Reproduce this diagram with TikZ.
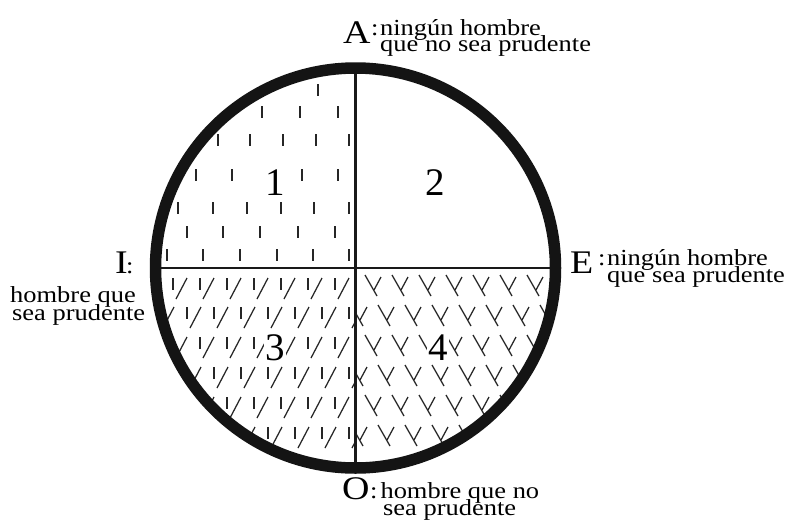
\documentclass[tikz,border=0pt]{standalone}
\usepackage{fontspec}
\setmainfont[FakeStretch=1.15]{Liberation Serif}
\newfontfamily\digfont{Liberation Serif}
\begin{document}
\begin{tikzpicture}[x=1pt,y=-1pt,
  patline/.style={line width=1.25pt,color=black!85},
  bigl/.style={font=\fontsize{33}{33}\selectfont,inner sep=0pt,anchor=base west},
  smallt/.style={font=\fontsize{23}{16}\selectfont,inner sep=0pt,anchor=base west},
  numb/.style={font=\digfont\fontsize{39}{39}\selectfont,fill=white,inner xsep=1pt,inner ysep=1pt,text height=26pt,text depth=0pt,anchor=base},
  rim/.style={line width=11.5pt,color=black!92},
  cross/.style={line width=2.6pt,color=black!90}]
\useasboundingbox (0,0) rectangle (790,523);
\fill[white] (0,0) rectangle (790,523);
\coordinate (c) at (355.5,268);
% quadrant 1: short vertical ticks
\begin{scope}
  \clip (c) circle [radius=195pt];
  \clip (150,268) rectangle (355.5,60);
  \foreach \y/\xs in {255/{167,203,240,277,313,349},232/{187,223,260,298,335},208/{178,213,247,281,314,349},175/{196,232,267,302,338},140/{218,250,283,316,349},112/{262,300,338},90/{318}}{
    \foreach \x in \xs {\draw[patline] (\x,\y-6) -- (\x,\y+6);}
  }
\end{scope}
% quadrant 3: tick + slash
\begin{scope}
  \clip (c) circle [radius=195pt];
  \clip (150,268) rectangle (355.5,480);
  \foreach \y in {278,337,397}{
    \foreach \x in {119,146,...,340}{
      \draw[patline] (\x,\y) -- (\x,\y+12);
      \draw[patline] (\x+3,\y+21) -- (\x+14,\y);
    }
  }
  \foreach \y in {307,367,427}{
    \foreach \x in {133,160,...,355}{
      \draw[patline] (\x,\y) -- (\x,\y+12);
      \draw[patline] (\x+3,\y+21) -- (\x+14,\y);
    }
  }
\end{scope}
% quadrant 4: backslash + short slash
\begin{scope}
  \clip (c) circle [radius=195pt];
  \clip (355.5,268) rectangle (565,480);
  \foreach \y in {275,335,395}{
    \foreach \x in {365,392,...,560}{
      \draw[patline] (\x,\y) -- (\x+12,\y+21);
      \draw[patline] (\x+9,\y+15) -- (\x+16,\y+2);
    }
  }
  \foreach \y in {305,365,425}{
    \foreach \x in {351,378,...,570}{
      \draw[patline] (\x,\y) -- (\x+12,\y+21);
      \draw[patline] (\x+9,\y+15) -- (\x+16,\y+2);
    }
  }
\end{scope}
% numbers
\node[numb] (n1) at (275,195) {1};
\node[numb] (n2) at (435,195) {2};
\node[numb] (n3) at (275,360) {3};
\node[numb] (n4) at (438,360) {4};
% cross and rim
\draw[cross] (155,268) -- (556,268);
\draw[cross] (355.5,68) -- (355.5,468);
\draw[rim] (c) circle [radius=200pt];
% labels
\node[bigl] (A) at (343,43) {A};
\node[smallt] (A1) at (371,35) {:\kern1.5pt ningún hombre};
\node[smallt] (A2) at (380,51) {que no sea prudente};
\node[bigl] (E) at (570,273) {E};
\node[smallt] (E1) at (598,265) {:\kern1.5pt ningún hombre};
\node[smallt] (E2) at (607,282) {que sea prudente};
\node[bigl] (I) at (115,273) {I};
\node[smallt] (Icol) at (126,273) {:};
\node[smallt] (I1) at (10,302) {hombre que};
\node[smallt] (I2) at (12,320) {sea prudente};
\node[bigl] (O) at (342,499) {O};
\node[smallt] (O1) at (370,498) {:\kern3pt hombre que no};
\node[smallt] (O2) at (383,515) {sea prudente};
\end{tikzpicture}
\end{document}
